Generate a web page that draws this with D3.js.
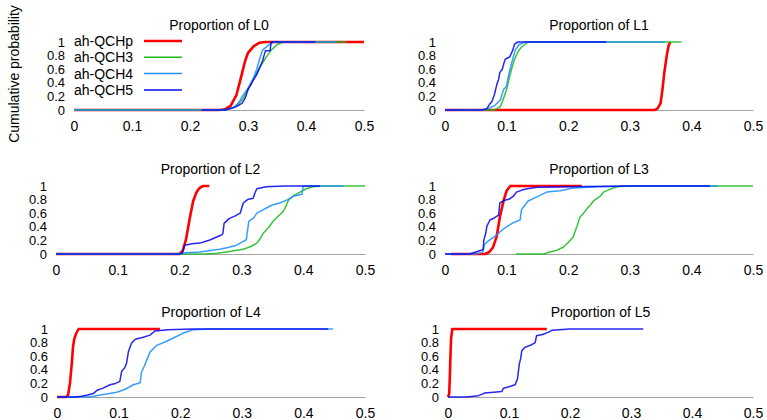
<!DOCTYPE html>
<html>
<head>
<meta charset="utf-8">
<script src="https://cdn.jsdelivr.net/npm/d3@7"></script>
<style>
  body { margin: 0; background: #fff; }
  text { font-family: "Liberation Sans", Arial, sans-serif; fill: #000; }
</style>
</head>
<body>
<div id="chart"></div>
<script>
var seriesNames = ['ah-QCHp', 'ah-QCH3', 'ah-QCH4', 'ah-QCH5'];
var panelTitles = ['Proportion of L0', 'Proportion of L1', 'Proportion of L2',
                   'Proportion of L3', 'Proportion of L4', 'Proportion of L5'];
var xTicks = [0, 0.1, 0.2, 0.3, 0.4, 0.5];
var yTicks = [0, 0.2, 0.4, 0.6, 0.8, 1];

// empirical CDFs as [proportion, cumulative probability]
var l0Hp = [[0,0],[0.25,0],[0.26,0.01],[0.27,0.06],[0.28,0.22],[0.285,0.38],[0.29,0.55],[0.295,0.72],[0.30,0.84],[0.31,0.94],[0.32,0.99],[0.33,1],[0.5,1]];
var l0H3 = [[0,0],[0.26,0],[0.27,0.02],[0.28,0.06],[0.29,0.15],[0.30,0.30],[0.31,0.47],[0.32,0.62],[0.33,0.76],[0.34,0.88],[0.35,0.96],[0.36,1],[0.47,1]];
var l0H4 = [[0,0],[0.26,0],[0.275,0.03],[0.285,0.12],[0.29,0.2],[0.30,0.32],[0.31,0.48],[0.315,0.6],[0.32,0.75],[0.325,0.88],[0.335,0.95],[0.345,1],[0.453,1]];
var l0H5 = [[0.22,0],[0.26,0],[0.28,0.05],[0.29,0.1],[0.295,0.17],[0.30,0.3],[0.31,0.45],[0.315,0.52],[0.32,0.62],[0.325,0.72],[0.33,0.87],[0.338,0.87],[0.34,1],[0.416,1]];

var l1Hp = [[0,0],[0.34,0],[0.345,0.02],[0.35,0.1],[0.353,0.3],[0.356,0.55],[0.36,0.8],[0.363,0.95],[0.366,1]];
var l1H3 = [[0.02,0],[0.08,0],[0.09,0.05],[0.095,0.17],[0.1,0.3],[0.103,0.42],[0.108,0.6],[0.112,0.72],[0.116,0.81],[0.12,0.88],[0.125,0.93],[0.135,1],[0.384,1]];
var l1H4 = [[0,0],[0.06,0],[0.07,0.02],[0.08,0.06],[0.09,0.15],[0.095,0.3],[0.1,0.35],[0.103,0.5],[0.107,0.65],[0.11,0.75],[0.114,0.88],[0.12,0.96],[0.13,1],[0.357,1]];
var l1H5 = [[0,0],[0.06,0],[0.068,0.02],[0.072,0.08],[0.076,0.12],[0.08,0.22],[0.084,0.37],[0.087,0.45],[0.089,0.55],[0.093,0.6],[0.096,0.7],[0.098,0.75],[0.105,0.78],[0.11,0.88],[0.113,0.97],[0.118,1],[0.262,1]];

var l2Hp = [[0,0],[0.2,0],[0.205,0.05],[0.21,0.2],[0.213,0.35],[0.217,0.55],[0.222,0.78],[0.227,0.9],[0.232,0.97],[0.238,1],[0.248,1]];
var l2H3 = [[0,0],[0.24,0],[0.26,0.01],[0.276,0.03],[0.29,0.05],[0.303,0.07],[0.315,0.11],[0.325,0.16],[0.33,0.22],[0.335,0.3],[0.345,0.4],[0.352,0.49],[0.36,0.56],[0.368,0.63],[0.372,0.7],[0.376,0.79],[0.385,0.86],[0.395,0.91],[0.405,0.96],[0.416,0.99],[0.43,1],[0.5,1]];
var l2H4 = [[0,0],[0.2,0],[0.21,0.02],[0.233,0.03],[0.25,0.05],[0.265,0.07],[0.28,0.1],[0.292,0.13],[0.3,0.17],[0.308,0.21],[0.31,0.35],[0.312,0.48],[0.32,0.53],[0.325,0.6],[0.335,0.65],[0.341,0.68],[0.35,0.72],[0.362,0.75],[0.375,0.8],[0.384,0.85],[0.398,0.88],[0.4,1],[0.465,1]];
var l2H5 = [[0,0],[0.2,0],[0.205,0.02],[0.208,0.13],[0.22,0.15],[0.233,0.16],[0.24,0.18],[0.25,0.21],[0.26,0.25],[0.268,0.28],[0.27,0.3],[0.272,0.45],[0.28,0.52],[0.29,0.56],[0.298,0.6],[0.303,0.75],[0.31,0.8],[0.319,0.82],[0.322,0.9],[0.325,0.96],[0.34,0.99],[0.37,1],[0.427,1]];

var l3Hp = [[0.01,0],[0.065,0],[0.072,0.03],[0.078,0.1],[0.084,0.26],[0.089,0.54],[0.093,0.7],[0.095,0.78],[0.1,0.93],[0.106,1],[0.222,1]];
var l3H3 = [[0.115,0],[0.16,0],[0.17,0.03],[0.18,0.05],[0.192,0.1],[0.2,0.17],[0.208,0.25],[0.214,0.4],[0.219,0.54],[0.225,0.6],[0.23,0.66],[0.236,0.72],[0.241,0.78],[0.252,0.85],[0.257,0.91],[0.265,0.94],[0.273,0.97],[0.285,1],[0.5,1]];
var l3H4 = [[0,0],[0.05,0],[0.06,0.02],[0.062,0.05],[0.064,0.14],[0.07,0.19],[0.078,0.24],[0.084,0.28],[0.09,0.33],[0.095,0.37],[0.1,0.4],[0.111,0.46],[0.122,0.5],[0.124,0.65],[0.13,0.72],[0.135,0.78],[0.149,0.84],[0.165,0.91],[0.187,0.93],[0.208,0.97],[0.25,0.99],[0.32,1],[0.443,1]];
var l3H5 = [[0,0],[0.04,0],[0.05,0.03],[0.06,0.06],[0.062,0.07],[0.063,0.2],[0.066,0.3],[0.068,0.41],[0.073,0.5],[0.08,0.53],[0.087,0.57],[0.089,0.75],[0.097,0.79],[0.105,0.81],[0.111,0.85],[0.116,0.91],[0.125,0.94],[0.133,0.96],[0.15,0.98],[0.2,0.99],[0.3,1],[0.43,1]];

var l4Hp = [[0,0],[0.015,0],[0.018,0.03],[0.021,0.2],[0.024,0.49],[0.026,0.74],[0.028,0.85],[0.031,0.93],[0.035,1],[0.167,1]];
var l4H4 = [[0,0],[0.05,0],[0.06,0.01],[0.07,0.03],[0.085,0.05],[0.097,0.07],[0.11,0.11],[0.124,0.18],[0.135,0.21],[0.137,0.36],[0.142,0.46],[0.146,0.55],[0.151,0.66],[0.162,0.76],[0.178,0.82],[0.194,0.89],[0.205,0.94],[0.221,0.99],[0.25,1],[0.448,1]];
var l4H5 = [[0,0],[0.03,0],[0.04,0.01],[0.05,0.03],[0.059,0.05],[0.065,0.1],[0.075,0.13],[0.086,0.18],[0.095,0.2],[0.102,0.23],[0.105,0.38],[0.11,0.43],[0.113,0.5],[0.116,0.67],[0.121,0.79],[0.127,0.85],[0.14,0.88],[0.151,0.91],[0.159,0.97],[0.18,0.99],[0.22,1],[0.44,1]];

var l5Hp = [[0,0],[0.002,0.05],[0.003,0.3],[0.004,0.6],[0.005,0.85],[0.007,1],[0.162,1]];
var l5H5 = [[0,0],[0.03,0],[0.05,0.02],[0.058,0.05],[0.06,0.06],[0.075,0.07],[0.088,0.08],[0.091,0.13],[0.1,0.15],[0.11,0.18],[0.114,0.27],[0.116,0.42],[0.117,0.49],[0.119,0.56],[0.121,0.68],[0.126,0.73],[0.135,0.76],[0.143,0.8],[0.145,0.9],[0.155,0.92],[0.164,0.95],[0.17,0.98],[0.2,1],[0.32,1]];

// which series each panel shows (index into seriesNames)
var panelSeries = [
  [[0, l0Hp], [1, l0H3], [2, l0H4], [3, l0H5]],
  [[0, l1Hp], [1, l1H3], [2, l1H4], [3, l1H5]],
  [[0, l2Hp], [1, l2H3], [2, l2H4], [3, l2H5]],
  [[0, l3Hp], [1, l3H3], [2, l3H4], [3, l3H5]],
  [[0, l4Hp], [2, l4H4], [3, l4H5]],
  [[0, l5Hp], [3, l5H5]]
];

var width = 767, height = 420;
var colors = ['#ff0000', '#1fbb1f', '#1e90ff', '#0808f0'];
var strokeW = [2.6, 1.5, 1.5, 1.5];

// plot frames: left/right of the x range, baseline and top of y range
var frames = [
  {x0: 74, x1: 364, y0: 110, y1: 42},
  {x0: 445, x1: 753, y0: 110, y1: 42},
  {x0: 56, x1: 365, y0: 254, y1: 186},
  {x0: 445, x1: 753, y0: 254, y1: 186},
  {x0: 57, x1: 365, y0: 397, y1: 329},
  {x0: 448, x1: 753, y0: 397, y1: 329}
];

var svg = d3.select('#chart').append('svg')
    .attr('width', width)
    .attr('height', height);

frames.forEach(function(f, i) {
  var xScale = d3.scaleLinear().domain([0, 0.5]).range([f.x0, f.x1]);
  var yScale = d3.scaleLinear().domain([0, 1]).range([f.y0, f.y1]);
  var g = svg.append('g').attr('class', 'panel');

  var xAxis = d3.axisBottom(xScale)
      .tickValues(xTicks)
      .tickFormat(d => d)
      .tickSize(0)
      .tickPadding(11);
  g.append('g')
      .attr('class', 'axis x')
      .attr('transform', 'translate(0,' + f.y0 + ')')
      .call(xAxis)
      .call(s => s.select('.domain').attr('stroke', '#a3a3a3').attr('stroke-width', 1.2))
      .call(s => s.selectAll('text').attr('font-size', 14).attr('fill', '#000')
          .attr('font-family', '"Liberation Sans", Arial, sans-serif'));

  var yAxis = d3.axisLeft(yScale)
      .tickValues(yTicks)
      .tickFormat(d => d)
      .tickSize(0)
      .tickPadding(9);
  g.append('g')
      .attr('class', 'axis y')
      .attr('transform', 'translate(' + f.x0 + ',0)')
      .call(yAxis)
      .call(s => s.select('.domain').remove())
      .call(s => s.selectAll('text').attr('font-size', 13).attr('fill', '#000')
          .attr('font-family', '"Liberation Sans", Arial, sans-serif'));

  g.append('text')
      .attr('class', 'title')
      .attr('x', (f.x0 + f.x1) / 2)
      .attr('y', f.y1 - 12)
      .attr('text-anchor', 'middle')
      .attr('font-size', 14)
      .text(panelTitles[i]);

  var line = d3.line()
      .x(d => xScale(d[0]))
      .y(d => yScale(d[1]));

  g.selectAll('path.cdf')
      .data(panelSeries[i])
    .enter().append('path')
      .attr('class', 'cdf')
      .attr('d', d => line(d[1]))
      .attr('fill', 'none')
      .attr('stroke', d => colors[d[0]])
      .attr('stroke-width', d => strokeW[d[0]])
      .attr('stroke-opacity', d => d[0] === 0 ? 1 : 0.88)
      .attr('stroke-linejoin', 'round');
});

// legend sits inside the first panel
var legend = svg.append('g').attr('class', 'legend');
var rows = legend.selectAll('g')
    .data(seriesNames)
  .enter().append('g')
    .attr('transform', (d, i) => 'translate(74,' + (41 + i * 16.3) + ')');
rows.append('text')
    .attr('dy', '0.35em')
    .attr('font-size', 14)
    .text(d => d);
rows.append('line')
    .attr('x1', 70).attr('x2', 108)
    .attr('stroke', (d, i) => colors[i])
    .attr('stroke-width', (d, i) => strokeW[i]);

svg.append('text')
    .attr('transform', 'translate(19,74) rotate(-90)')
    .attr('text-anchor', 'middle')
    .attr('font-size', 14)
    .text('Cumulative probability');
</script>
</body>
</html>
